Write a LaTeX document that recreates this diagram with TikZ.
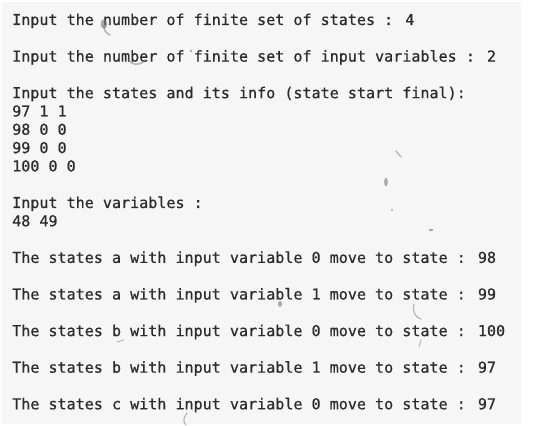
\documentclass[tikz,border=0pt]{standalone}
\usepackage{fontspec}
\newfontfamily\termfont{DejaVu Sans Mono}[FakeBold=0.6]
\definecolor{panelbg}{HTML}{F6F6F6}
\definecolor{termtext}{HTML}{2C2C2C}
\definecolor{speck}{HTML}{6A6A6A}
\begin{document}
\begin{tikzpicture}[x=1pt,y=1pt,
  line/.style={anchor=base west,inner sep=0pt,text=termtext,
    font=\termfont\fontsize{15.07}{18.3}\selectfont},
  smudge/.style={fill=speck,opacity=0.55},
  streak/.style={draw=speck,opacity=0.45,line width=1.6pt,line cap=round}]
\useasboundingbox (0,0) rectangle (550,426);
\fill[white] (0,0) rectangle (550,426);
\fill[panelbg] (2,2) rectangle (521,424);
% text lines: baseline y = 426 - (20 + k*18.3 + 5)
\node[line] (l0)  at (12,401.0) {Input the number of finite set of states : 4};
\node[line] (l2)  at (12,364.4) {Input the number of finite set of input variables : 2};
\node[line] (l4)  at (12,327.8) {Input the states and its info (state start final):};
\node[line] (l5)  at (12,309.5) {97 1 1};
\node[line] (l6)  at (12,291.2) {98 0 0};
\node[line] (l7)  at (12,272.9) {99 0 0};
\node[line] (l8)  at (12,254.6) {100 0 0};
\node[line] (l10) at (12,218.0) {Input the variables :};
\node[line] (l11) at (12,199.7) {48 49};
\node[line] (l13) at (12,163.1) {The states a with input variable 0 move to state : 98};
\node[line] (l15) at (12,126.5) {The states a with input variable 1 move to state : 99};
\node[line] (l17) at (12,89.9)  {The states b with input variable 0 move to state : 100};
\node[line] (l19) at (12,53.3)  {The states b with input variable 1 move to state : 97};
\node[line] (l21) at (12,16.7)  {The states c with input variable 0 move to state : 97};
% faint smudges on the screen
\fill[smudge] (104,402) ellipse (3.4 and 4.8);
\draw[streak] (104,400) .. controls (105,394) .. (110,391);
\draw[streak] (128,367) .. controls (132,360) and (140,360) .. (145,366);
\fill[smudge] (191,375) circle (1.4);
\draw[streak,line width=1.4pt] (396,275) -- (401,269);
\fill[smudge] (386,244) ellipse (1.8 and 4.5);
\fill[smudge] (392,216) circle (1.2);
\fill[smudge] (431,196) ellipse (2.2 and 1.2);
\fill[smudge] (280,122) ellipse (2 and 3);
\draw[streak,line width=1.2pt] (414,122) .. controls (412,114) and (416,108) .. (421,107);
\draw[streak,line width=1pt] (421,86) -- (419,79);
\draw[streak,line width=1pt] (117,84) -- (124,86);
\draw[streak,line width=1.2pt] (187,13) .. controls (183,8) and (183,3) .. (186,1);
\end{tikzpicture}
\end{document}
